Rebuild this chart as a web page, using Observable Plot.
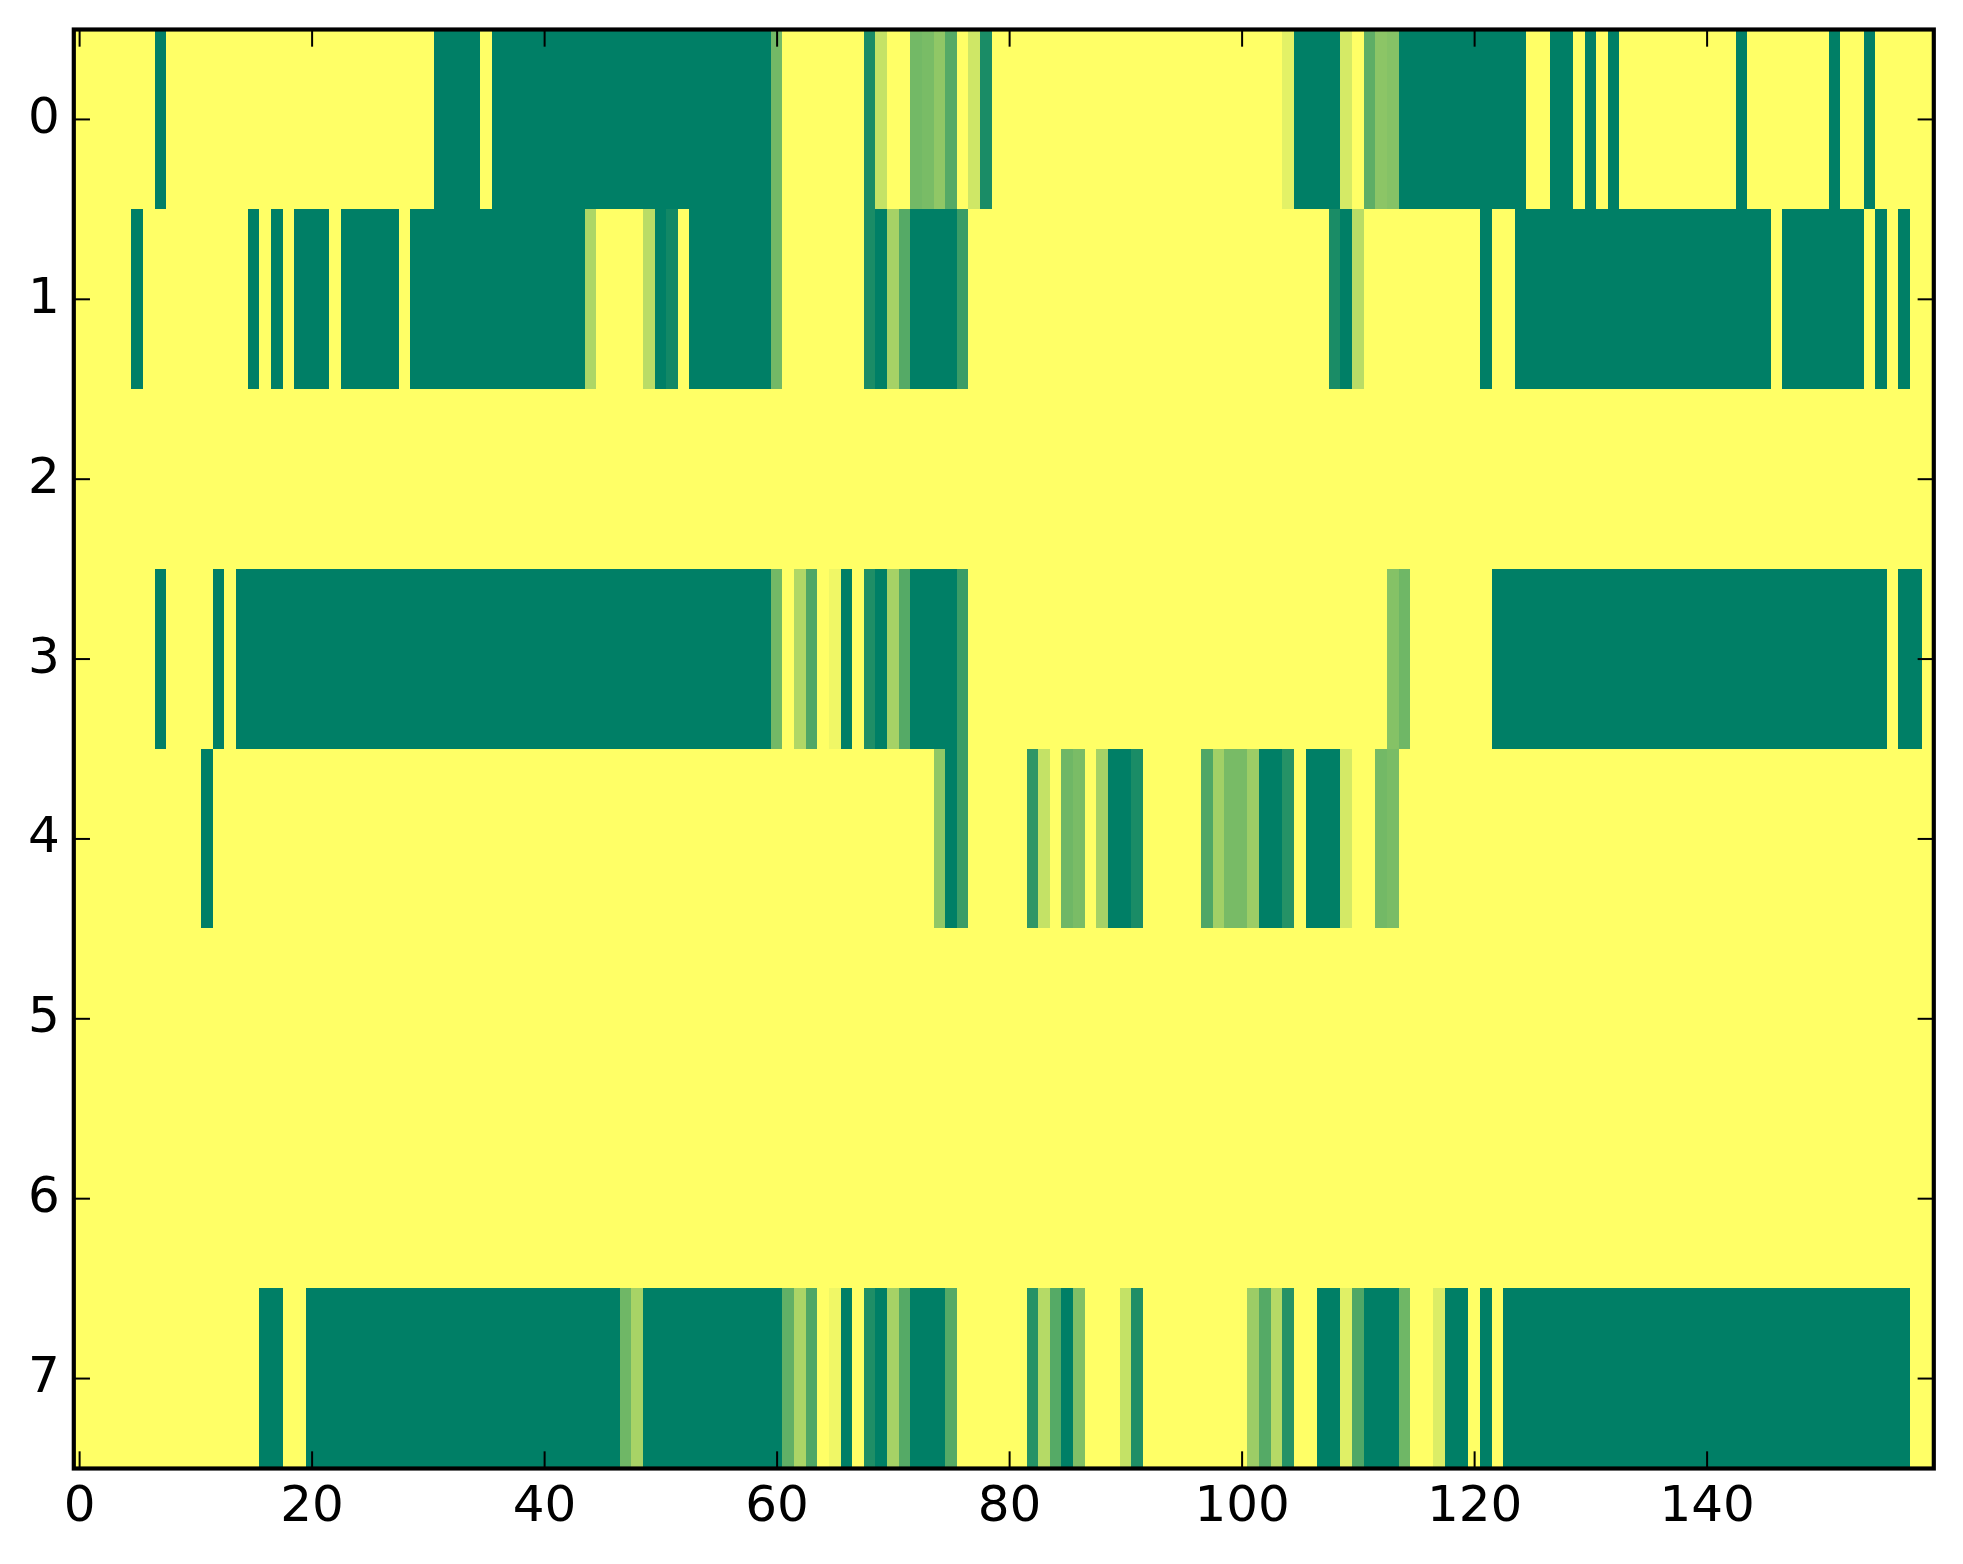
<!DOCTYPE html>
<html>
<head>
<meta charset="utf-8">
<style>html,body{margin:0;padding:0;background:#fff}svg{display:block}</style>
<script src="https://cdn.jsdelivr.net/npm/d3@7"></script>
<script src="https://cdn.jsdelivr.net/npm/@observablehq/plot@0.6"></script>
</head>
<body>
<div id="chart"></div>
<script>
const xTicks = [0,20,40,60,80,100,120,140];
const yTicks = [0,1,2,3,4,5,6,7];
const zeros10 = [0,0,0,0,0,0,0,0,0,0];
const ones10 = [1,1,1,1,1,1,1,1,1,1];

const row0 = [
  0,0,0,0,0,0,0,1,0,0, ...zeros10, ...zeros10,
  0,1,1,1,1,0,1,1,1,1, ...ones10, ...ones10,
  .55,0,0,0,0,0,0,0,.9,.23,
  0,0,.55,.525,.435,.667,0,.19,.9,0,
  ...zeros10, ...zeros10,
  0,0,0,0,.11,1,1,1,1,.165,
  0,.63,.45,.48,1,1,1,1,1,1,
  1,1,1,1,1,0,0,1,1,0,
  1,0,1,0,0,0,0,0,0,0,
  0,0,0,1,0,0,0,0,0,0,
  0,1,0,0,1,0,0,0,0,0];
const row1 = [
  0,0,0,0,0,1,0,0,0,0,
  0,0,0,0,0,1,0,1,0,1,
  1,1,0,1,1,1,1,1,0,1,
  ...ones10,
  1,1,1,1,.32,0,0,0,0,.27,
  1,.93,0,1,1,1,1,1,1,1,
  .55,0,0,0,0,0,0,0,.9,1,
  .35,.667,1,1,1,1,.77,0,0,0,
  ...zeros10, ...zeros10,
  0,0,0,0,0,0,0,0,.9,1,
  .27,0,0,0,0,0,0,0,0,0,
  0,1,0,0,1,1,1,1,1,1,
  ...ones10,
  1,1,1,1,1,1,0,1,1,1,
  1,1,1,1,0,1,0,1,0,0];
const row2 = Array.from({length:16}, () => zeros10).flat();
const row3 = [
  0,0,0,0,0,0,0,1,0,0,
  0,0,1,0,1,1,1,1,1,1,
  ...ones10, ...ones10, ...ones10, ...ones10,
  .55,0,.31,.69,0,.06,1,0,.88,1,
  .35,.667,1,1,1,1,.77,0,0,0,
  ...zeros10, ...zeros10, ...zeros10,
  0,0,0,.48,.565,0,0,0,0,0,
  0,0,1,1,1,1,1,1,1,1,
  ...ones10, ...ones10,
  1,1,1,1,1,1,0,1,1,0];
const row4 = [
  ...zeros10,
  0,1,0,0,0,0,0,0,0,0,
  ...zeros10, ...zeros10, ...zeros10, ...zeros10, ...zeros10,
  0,0,0,0,.435,1,.77,0,0,0,
  0,0,.82,.23,0,.565,.52,0,.35,1,
  1,.9,0,0,0,0,0,.69,.37,.53,
  .53,.39,1,1,.855,0,1,1,1,.17,
  0,0,.55,.52,0,0,0,0,0,0,
  ...zeros10, ...zeros10, ...zeros10, ...zeros10];
const row5 = Array.from({length:16}, () => zeros10).flat();
const row6 = Array.from({length:16}, () => zeros10).flat();
const row7 = [
  ...zeros10,
  0,0,0,0,0,0,1,1,0,0,
  ...ones10, ...ones10,
  1,1,1,1,1,1,1,.565,.34,1,
  ...ones10,
  1,.62,.33,.69,0,.06,1,0,.88,1,
  .35,.667,1,1,1,.667,0,0,0,0,
  0,0,.855,.29,.667,1,.5,0,0,0,
  .23,.88,0,0,0,0,0,0,0,0,
  0,.39,.667,.29,.855,0,0,1,1,.12,
  .69,1,1,1,.565,0,0,.14,1,1,
  0,1,0,1,1,1,1,1,1,1,
  ...ones10, ...ones10,
  1,1,1,1,1,1,1,1,0,0];

const rows = [row0,row1,row2,row3,row4,row5,row6,row7];
const cells = rows.flatMap((r, y) => r.map((v, x) => ({x, y, v})));

const plot = Plot.plot({
  width: 1963,
  height: 1564,
  marginLeft: 73.3,
  marginRight: 29.7,
  marginTop: 29,
  marginBottom: 96,
  style: {fontFamily: "'DejaVu Sans'", background: "#fff", color: "#000"},
  x: {domain: [-0.5, 159.5], label: null},
  y: {domain: [7.5, -0.5], label: null},
  color: {type: "linear", domain: [0, 1], range: ["#ffff66", "#007f66"]},
  marks: [
    Plot.rect(cells, {
      x1: d => d.x - 0.5, x2: d => d.x + 0.5,
      y1: d => d.y - 0.5, y2: d => d.y + 0.5,
      fill: "v", shapeRendering: "crispEdges", inset: 0
    }),
    Plot.axisX(xTicks, {anchor: "bottom", tickSize: -16.67, tickPadding: 34, fontSize: 50, label: null, strokeWidth: 2, tickFormat: d => String(d)}),
    Plot.axisX(xTicks, {anchor: "top", tickSize: -16.67, label: null, strokeWidth: 2, text: null}),
    Plot.axisY(yTicks, {anchor: "left", tickSize: 0, tickPadding: 14, fontSize: 50, label: null, dy: -2.5, tickFormat: d => String(d)}),
    Plot.axisY(yTicks, {anchor: "left", tickSize: -16.67, label: null, strokeWidth: 2, text: null}),
    Plot.axisY(yTicks, {anchor: "right", tickSize: -16.67, label: null, strokeWidth: 2, text: null}),
    Plot.frame({stroke: "#000", strokeWidth: 4.17})
  ]
});
document.getElementById("chart").appendChild(plot);
</script>
</body>
</html>
